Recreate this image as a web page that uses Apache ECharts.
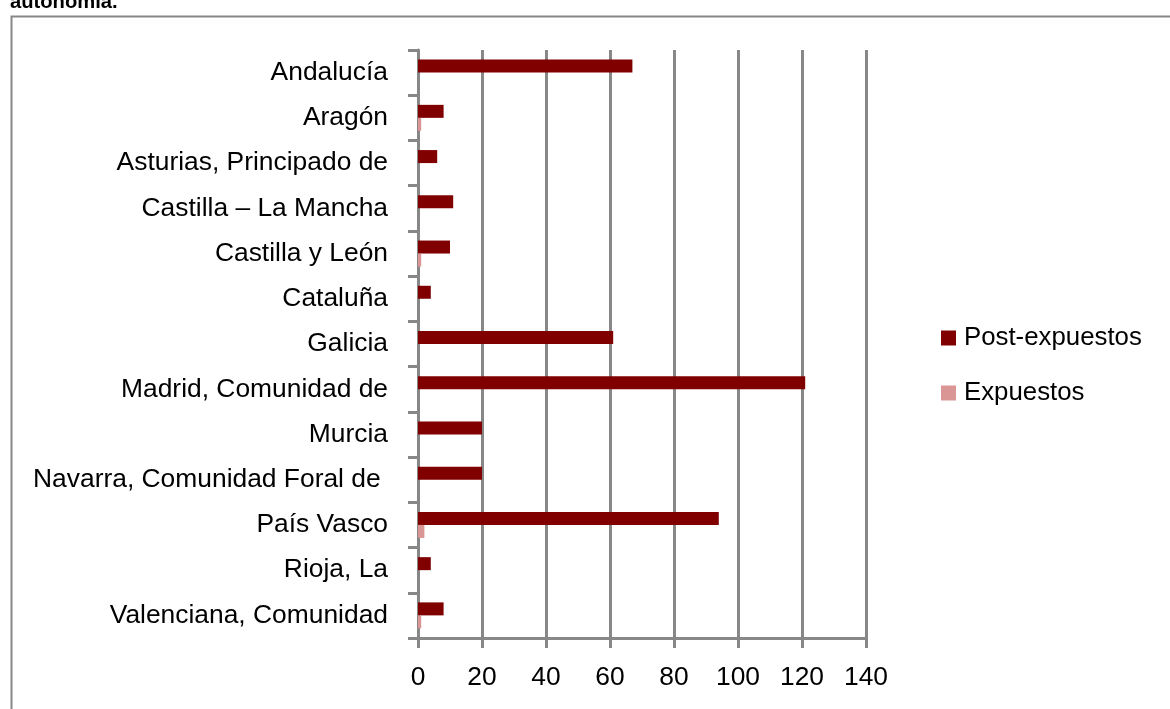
<!DOCTYPE html>
<html>
<head>
<meta charset="utf-8">
<script src="https://cdn.jsdelivr.net/npm/echarts@6/dist/echarts.min.js"></script>
<style>
html,body{margin:0;padding:0;background:#fff;}
#chart{width:1170px;height:709px;}
</style>
</head>
<body>
<div id="chart"></div>
<script>
const categories = [
  'Andalucía', 'Aragón', 'Asturias, Principado de', 'Castilla – La Mancha',
  'Castilla y León', 'Cataluña', 'Galicia', 'Madrid, Comunidad de', 'Murcia',
  'Navarra, Comunidad Foral de ', 'País Vasco', 'Rioja, La', 'Valenciana, Comunidad'
];
const postExpuestos = [67, 8, 6, 11, 10, 4, 61, 121, 20, 20, 94, 4, 8];
const expuestos     = [0, 1, 0, 0, 1, 0, 0, 0, 0, 0, 2, 0, 1];
const xTicks = [0, 20, 40, 60, 80, 100, 120, 140];
const titleText = 'autonomía.';

const FONT = '"Liberation Sans Narrow", "Arial Narrow", "Liberation Sans", Arial, sans-serif';
const GRAY = '#878787';

// fit a font size so that a sample text has the width measured in the reference
const ctx = document.createElement('canvas').getContext('2d');
function fitSize(sample, targetWidth, weight) {
  ctx.font = (weight ? weight + ' ' : '') + '100px ' + FONT;
  const w = ctx.measureText(sample).width;
  return Math.round(100 * targetWidth / w * 10) / 10;
}
const catSize = Math.min(31, fitSize('Asturias, Principado de', 271));
const legSize = Math.min(31, fitSize('Post-expuestos', 178));
const xSize = Math.min(30, fitSize('100', 44));
const titleSize = Math.min(25, fitSize(titleText, 108, 'bold'));

const chart = echarts.init(document.getElementById('chart'), null, {renderer: 'canvas'});
chart.setOption({
  animation: false,
  backgroundColor: '#ffffff',
  graphic: [
    {
      type: 'rect', left: 9, top: 14, silent: true,
      shape: {width: 1200, height: 720},
      style: {fill: 'none', stroke: GRAY, lineWidth: 2}
    },
    {
      type: 'text', x: 10, y: 12, silent: true,
      style: {text: titleText, font: 'bold ' + titleSize + 'px ' + FONT, fill: '#000', verticalAlign: 'bottom'}
    }
  ],
  legend: {
    orient: 'vertical',
    left: 941,
    top: 323,
    padding: 0,
    itemWidth: 15,
    itemHeight: 15,
    itemGap: 25,
    icon: 'rect',
    textStyle: {fontFamily: FONT, fontSize: legSize, color: '#000', lineHeight: 30, padding: [0, 0, 0, 3]},
    data: ['Post-expuestos', 'Expuestos']
  },
  grid: {left: 418, top: 50, right: 304, bottom: 71, containLabel: false, outerBoundsMode: 'none'},
  xAxis: {
    type: 'value',
    min: xTicks[0],
    max: xTicks[xTicks.length - 1],
    interval: 20,
    axisLine: {show: true, lineStyle: {color: GRAY, width: 3}},
    axisTick: {show: true, length: 10, lineStyle: {color: GRAY, width: 3}},
    splitLine: {show: true, lineStyle: {color: GRAY, width: 3}},
    axisLabel: {fontFamily: FONT, fontSize: xSize, color: '#000', margin: 27}
  },
  yAxis: {
    type: 'category',
    inverse: true,
    data: categories,
    axisLine: {show: true, lineStyle: {color: GRAY, width: 3}},
    axisTick: {show: true, length: 10, lineStyle: {color: GRAY, width: 3}},
    axisLabel: {fontFamily: FONT, fontSize: catSize, color: '#000', margin: 30},
    splitLine: {show: false}
  },
  series: [
    {
      name: 'Post-expuestos', type: 'bar', data: postExpuestos,
      barWidth: 13, barGap: '0%',
      itemStyle: {color: '#800000'}
    },
    {
      name: 'Expuestos', type: 'bar', data: expuestos,
      barWidth: 13, barGap: '0%',
      itemStyle: {color: '#D99694'}
    }
  ]
});
</script>
</body>
</html>
